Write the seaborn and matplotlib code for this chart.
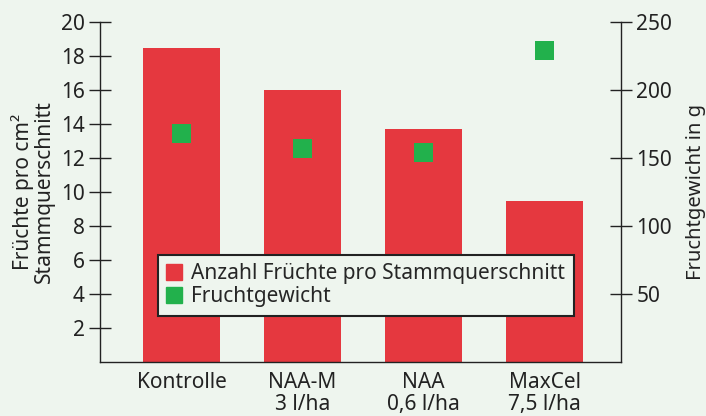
import numpy as np
import pandas as pd
import matplotlib
matplotlib.use("Agg")
import matplotlib.pyplot as plt
import seaborn as sns
from matplotlib.lines import Line2D

# data
categories = ["Kontrolle", "NAA-M\n3 l/ha", "NAA\n0,6 l/ha", "MaxCel\n7,5 l/ha"]
fruits_per_cm2 = [18.5, 16.0, 13.7, 9.5]
fruit_weight = [168, 157, 154, 229]

bg = "#eef5ee"
red = "#e5383f"
green = "#22b14c"
ink = "#222222"

sns.set_theme(style="white")
plt.rcParams["font.family"] = ["Noto Sans", "DejaVu Sans"]

df = pd.DataFrame({"cat": categories, "fruits": fruits_per_cm2, "weight": fruit_weight})

fig = plt.figure(figsize=(7.06, 4.16), dpi=100, facecolor=bg)
ax = fig.add_axes([100 / 706, 54 / 416, 521 / 706, 340 / 416])
ax.set_facecolor(bg)

sns.barplot(data=df, x="cat", y="fruits", color=red, width=0.63, saturation=1,
            linewidth=0, ax=ax)
ax.set_ylim(0, 20)
ax.set_xlim(-0.674, 3.632)
ax.set_yticks([2, 4, 6, 8, 10, 12, 14, 16, 18, 20])
ax.set_xlabel("")
ax.set_ylabel("Früchte pro cm²\nStammquerschnitt", fontsize=15, color=ink,
              linespacing=1.0)
ax.yaxis.set_label_coords(-45 / 521, 0.5)
ax.tick_params(axis="y", direction="inout", length=16, width=1, color=ink,
               labelsize=15, labelcolor=ink, pad=3)
ax.tick_params(axis="x", length=0, labelsize=15, labelcolor=ink, pad=7)
for lab in ax.get_xticklabels():
    lab.set_linespacing(1.1)
for s in ["top", "right"]:
    ax.spines[s].set_visible(False)
for s in ["left", "bottom"]:
    ax.spines[s].set_color(ink)
    ax.spines[s].set_linewidth(1)

ax2 = ax.twinx()
sns.scatterplot(x=np.arange(len(categories)), y=fruit_weight, marker="s", s=175,
                color=green, edgecolor="none", ax=ax2, zorder=5)
ax2.set_ylim(0, 250)
ax2.set_yticks([50, 100, 150, 200, 250])
ax2.set_ylabel("Fruchtgewicht in g", fontsize=14.5, color=ink)
ax2.yaxis.set_label_coords(1 + 65 / 521, 0.5)
ax2.tick_params(axis="y", direction="inout", length=16, width=1, color=ink,
                labelsize=15, labelcolor=ink, pad=3)
for s in ["top", "left", "bottom"]:
    ax2.spines[s].set_visible(False)
ax2.spines["right"].set_color(ink)
ax2.spines["right"].set_linewidth(1)

handles = [
    Line2D([], [], marker="s", linestyle="none", markersize=11, color=red,
           label="Anzahl Früchte pro Stammquerschnitt"),
    Line2D([], [], marker="s", linestyle="none", markersize=11, color=green,
           label="Fruchtgewicht"),
]
leg = ax2.legend(handles=handles, loc="upper left", bbox_to_anchor=(58 / 521, 107 / 340),
                 fontsize=15, frameon=True, fancybox=False, handlelength=0.7,
                 handletextpad=0.5, borderpad=0.4, labelspacing=0.1, borderaxespad=0)
leg.get_frame().set_facecolor(bg)
leg.get_frame().set_edgecolor(ink)
leg.get_frame().set_linewidth(1.5)
leg.get_frame().set_alpha(1)

fig.savefig("out.png", dpi=100, facecolor=bg)
